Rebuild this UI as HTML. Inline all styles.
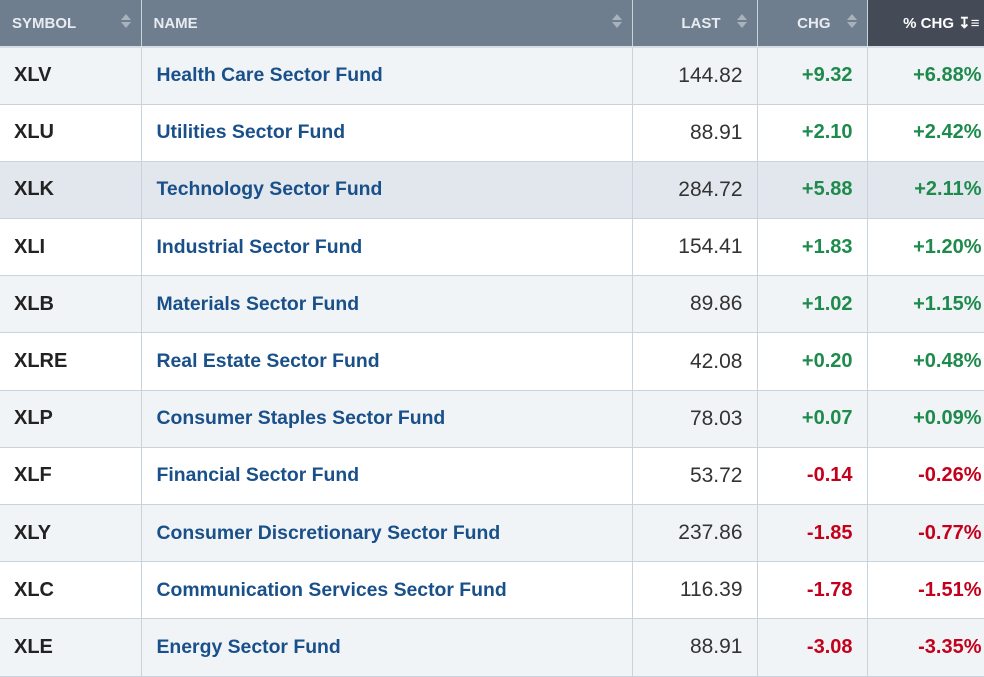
<!DOCTYPE html><html><head><style>
body{margin:0;width:984px;height:661px;overflow:hidden;font-family:"Liberation Sans",sans-serif;background:#fff}
table{border-collapse:collapse;width:984px;table-layout:fixed}
th{height:47px;background:#6f7e8f;color:#e8ecf0;font-size:15px;font-weight:bold;text-align:left;padding:0 12px;border-right:1px solid #c9d3dc;border-bottom:2px solid #d5dde5;position:relative;box-sizing:border-box}
th.r{text-align:right;padding-right:36px}
th.last{background:#444b57;color:#fff;padding-right:4px}
.ar{position:absolute;right:10px;top:14px;width:10px;height:16px}
.ar:before{content:"";position:absolute;left:0;top:0;border:5px solid transparent;border-bottom:6px solid #a7b2bd;border-top:0}
.ar:after{content:"";position:absolute;left:0;top:8px;border:5px solid transparent;border-top:6px solid #a7b2bd;border-bottom:0}
td{height:57.2px;box-sizing:border-box;border-right:1px solid #c9d3dc;border-bottom:1px solid #c9d3dc;font-size:20px;padding:0 14px;white-space:nowrap}
tr:nth-child(odd) td{background:#f1f4f7}
tr.h td{background:#e1e7ed}
td.s{font-weight:bold;color:#222}
td.n{font-weight:bold;color:#1a5089;padding-left:15px;font-size:19.4px}
td.num{text-align:right;color:#333;font-size:21px}
.g{color:#1e8a4c;text-align:right;font-weight:bold}
.d{color:#c4001c;text-align:right;font-weight:bold}
td:last-child{padding-right:2px}
</style></head><body>
<table>
<colgroup><col style="width:141px"><col style="width:491px"><col style="width:125px"><col style="width:110px"><col style="width:117px"></colgroup>
<thead><tr><th>SYMBOL<span class="ar"></span></th><th>NAME<span class="ar"></span></th><th class="r">LAST<span class="ar"></span></th><th class="r">CHG<span class="ar"></span></th><th class="r last">% CHG &#8615;&#8801;</th></tr></thead>
<tbody>
<tr><td class="s">XLV</td><td class="n">Health Care Sector Fund</td><td class="num">144.82</td><td class="g">+9.32</td><td class="g">+6.88%</td></tr>
<tr><td class="s">XLU</td><td class="n">Utilities Sector Fund</td><td class="num">88.91</td><td class="g">+2.10</td><td class="g">+2.42%</td></tr>
<tr class="h"><td class="s">XLK</td><td class="n">Technology Sector Fund</td><td class="num">284.72</td><td class="g">+5.88</td><td class="g">+2.11%</td></tr>
<tr><td class="s">XLI</td><td class="n">Industrial Sector Fund</td><td class="num">154.41</td><td class="g">+1.83</td><td class="g">+1.20%</td></tr>
<tr><td class="s">XLB</td><td class="n">Materials Sector Fund</td><td class="num">89.86</td><td class="g">+1.02</td><td class="g">+1.15%</td></tr>
<tr><td class="s">XLRE</td><td class="n">Real Estate Sector Fund</td><td class="num">42.08</td><td class="g">+0.20</td><td class="g">+0.48%</td></tr>
<tr><td class="s">XLP</td><td class="n">Consumer Staples Sector Fund</td><td class="num">78.03</td><td class="g">+0.07</td><td class="g">+0.09%</td></tr>
<tr><td class="s">XLF</td><td class="n">Financial Sector Fund</td><td class="num">53.72</td><td class="d">-0.14</td><td class="d">-0.26%</td></tr>
<tr><td class="s">XLY</td><td class="n">Consumer Discretionary Sector Fund</td><td class="num">237.86</td><td class="d">-1.85</td><td class="d">-0.77%</td></tr>
<tr><td class="s">XLC</td><td class="n">Communication Services Sector Fund</td><td class="num">116.39</td><td class="d">-1.78</td><td class="d">-1.51%</td></tr>
<tr><td class="s">XLE</td><td class="n">Energy Sector Fund</td><td class="num">88.91</td><td class="d">-3.08</td><td class="d">-3.35%</td></tr>
</tbody></table>
</body></html>
